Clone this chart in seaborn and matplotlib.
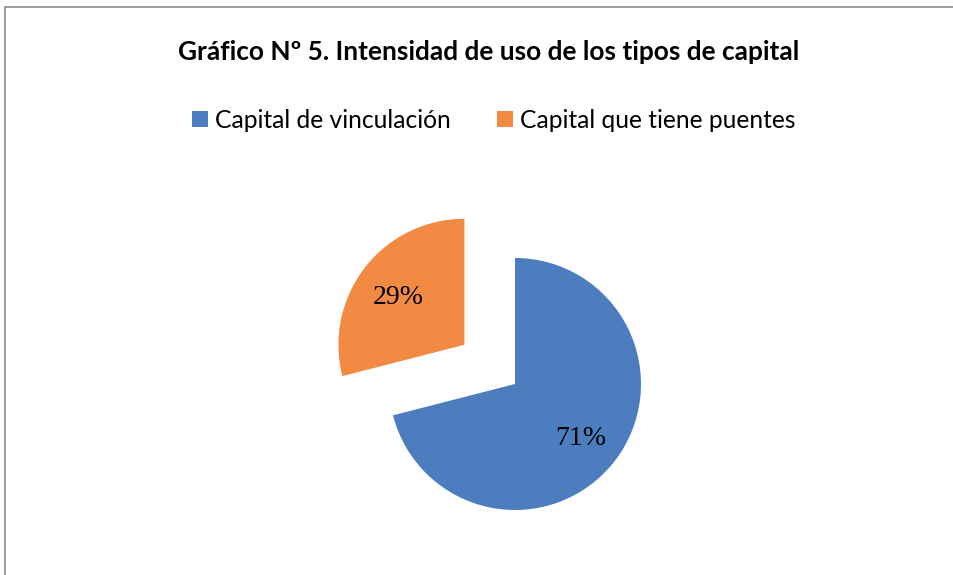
import matplotlib
matplotlib.use("Agg")
import matplotlib.pyplot as plt
import seaborn as sns
import numpy as np
from matplotlib.patches import Rectangle, Patch

categories = ["Capital de vinculación", "Capital que tiene puentes"]
values = [71, 29]
labels_pct = ["71%", "29%"]
title = "Gráfico Nº 5. Intensidad de uso de los tipos de capital"

sns.set_theme(style="white")
plt.rcParams['font.family'] = ['Lato', 'DejaVu Sans']

colors = ["#4B7DBF", "#F28A44"]
W, H = 954, 575
fig = plt.figure(figsize=(W / 100, H / 100), dpi=100)
ax = fig.add_axes([0, 0, 1, 1])

radius = 126
center = (515, H - 384)
expl = [0, 64]
ax.pie(values, colors=colors, startangle=90, counterclock=False,
       explode=expl, radius=radius, center=center,
       wedgeprops=dict(linewidth=0), frame=True)
ax.set_xlim(0, W)
ax.set_ylim(0, H)
ax.axis("off")

# percentage labels
start = 90.0
tot = sum(values)
for v, lab, e in zip(values, labels_pct, expl):
    ang = np.deg2rad(start - v / tot * 180)
    cx = center[0] + e * np.cos(ang)
    cy = center[1] + e * np.sin(ang)
    r = 0.66 * radius
    ax.text(cx + r * np.cos(ang), cy + r * np.sin(ang) - 4, lab, ha="center", va="center",
            fontsize=20, family="Liberation Serif", color="black")
    start -= v / tot * 360

fig.text(489 / W, 1 - 52 / H, title, ha="center", va="center", fontsize=18.9,
         fontweight="bold", color="black")

handles = [Patch(facecolor=c, edgecolor="none") for c in colors]
fig.legend(handles, categories, loc="center", bbox_to_anchor=(494 / W, 1 - 120 / H),
           ncol=2, frameon=False, fontsize=17.7, handlelength=0.62, handleheight=0.62,
           handletextpad=0.3, columnspacing=1.9, labelcolor="black",
           borderpad=0, borderaxespad=0)

fig.patches.append(Rectangle((5 / W, -0.1), 2, 1.1 - 7 / H, transform=fig.transFigure,
                             fill=False, edgecolor="#8c8c8c", linewidth=1.2))

fig.savefig("out.png", dpi=100, facecolor="white")
